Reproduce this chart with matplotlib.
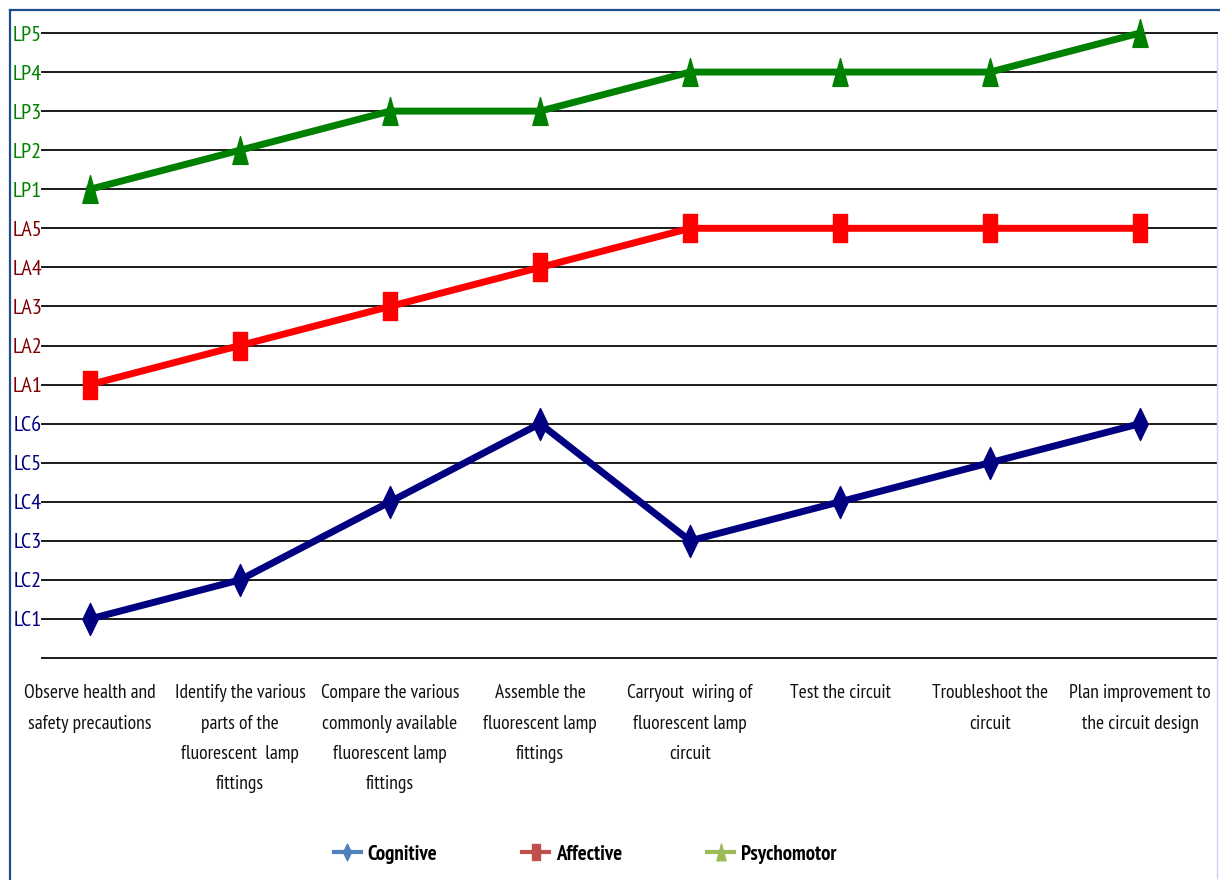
import matplotlib
matplotlib.use("Agg")
import matplotlib.pyplot as plt
from matplotlib.path import Path
from matplotlib.lines import Line2D

plt.rcParams['font.family'] = ['PT Sans Narrow', 'DejaVu Sans']

# Learning activities (x categories)
activities = [
    "Observe health and\nsafety precautions",
    "Identify the various\nparts of the\nfluorescent  lamp\nfittings",
    "Compare the various\ncommonly available\nfluorescent lamp\nfittings",
    "Assemble the\nfluorescent lamp\nfittings",
    "Carryout  wiring of\nfluorescent lamp\ncircuit",
    "Test the circuit",
    "Troubleshoot the\ncircuit",
    "Plan improvement to\nthe circuit design",
]

# Domain levels stacked on one scale: LC1-LC6, LA1-LA5, LP1-LP5
level_labels = ["LC1", "LC2", "LC3", "LC4", "LC5", "LC6",
                "LA1", "LA2", "LA3", "LA4", "LA5",
                "LP1", "LP2", "LP3", "LP4", "LP5"]
level_colors = ["#000080"] * 6 + ["#800000"] * 5 + ["#008000"] * 5

cognitive = [1, 2, 4, 6, 3, 4, 5, 6]
affective = [7, 8, 9, 10, 11, 11, 11, 11]
psychomotor = [12, 13, 14, 14, 15, 15, 15, 16]

# Tall marker shapes
tall_diamond = Path([(0, 1), (0.48, 0), (0, -1), (-0.48, 0), (0, 1)], closed=True)
tall_square = Path([(-0.52, -1), (0.52, -1), (0.52, 1), (-0.52, 1), (-0.52, -1)], closed=True)
tall_triangle = Path([(0, 1), (0.55, -1), (-0.55, -1), (0, 1)], closed=True)

W, H = 1220, 880
fig = plt.figure(figsize=(W / 100, H / 100), dpi=100)
fig.patch.set_facecolor("white")

ax_left, ax_right, ax_top, ax_bottom = 42, 1217, 33, 658
ax = fig.add_axes([ax_left / W, 1 - ax_bottom / H,
                   (ax_right - ax_left) / W, (ax_bottom - ax_top) / H])

x = list(range(len(activities)))
ax.set_xlim(-0.32, 7.513)
ax.set_ylim(0, 16)

# horizontal gridlines at every level, including the baseline
for v in range(0, 17):
    ax.axhline(v, color="#1a1a1a", lw=1.4, zorder=1, clip_on=False)

ax.plot(x, cognitive, color="#000080", lw=5, marker=tall_diamond,
        markersize=23, zorder=3, clip_on=False)
ax.plot(x, affective, color="#FF0000", lw=5, marker=tall_square,
        markersize=20, zorder=3, clip_on=False)
ax.plot(x, psychomotor, color="#008000", lw=5, marker=tall_triangle,
        markersize=20, zorder=3, clip_on=False)

for s in ax.spines.values():
    s.set_visible(False)

ax.set_yticks(range(1, 17))
ax.set_yticklabels(level_labels, fontsize=16)
for lab, c in zip(ax.get_yticklabels(), level_colors):
    lab.set_color(c)
ax.tick_params(axis="y", length=0, pad=0)

ax.set_xticks(x)
ax.set_xticklabels(activities, fontsize=14, linespacing=1.87, color="#111111")
ax.tick_params(axis="x", length=0, pad=19)

# legend with the palette colours
handles = [
    Line2D([], [], color="#4F81BD", lw=3, marker=tall_diamond, markersize=12),
    Line2D([], [], color="#C0504D", lw=3, marker=tall_square, markersize=12),
    Line2D([], [], color="#9BBB59", lw=3, marker=tall_triangle, markersize=12),
]
fig.legend(handles, ["Cognitive", "Affective", "Psychomotor"],
           loc="center", bbox_to_anchor=(585 / W, 1 - 854 / H), ncol=3,
           frameon=False, handlelength=1.3, handletextpad=0.3,
           columnspacing=4.1, prop={"size": 15, "weight": "bold"})

# outer frame lines
fig.add_artist(Line2D([10 / W, 10 / W], [0, 1 - 10 / H], color="#1F4E8C",
                      lw=1.6, transform=fig.transFigure))
fig.add_artist(Line2D([10 / W, 1], [1 - 10 / H, 1 - 10 / H], color="#1F4E8C",
                      lw=1.6, transform=fig.transFigure))
fig.add_artist(Line2D([1217 / W, 1217 / W], [1 - 878 / H, 1 - 35 / H],
                      color="#D0D4F2", lw=1, transform=fig.transFigure))

fig.savefig("out.png", dpi=100, facecolor="white")
